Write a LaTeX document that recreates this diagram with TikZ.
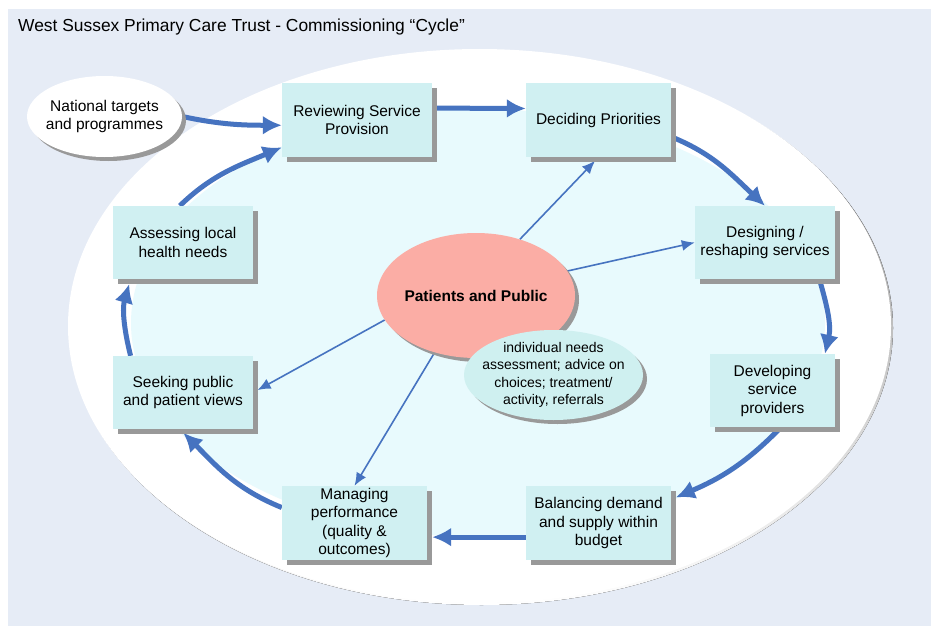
\documentclass[tikz,border=0pt]{standalone}
\usepackage{fontspec}
\setmainfont{Liberation Sans}
\usepackage{xcolor}
\usetikzlibrary{arrows.meta, shapes.geometric, shadows, backgrounds}

\definecolor{pagebg}{RGB}{230,236,246}
\definecolor{ringcyan}{RGB}{232,250,253}
\definecolor{boxcyan}{RGB}{208,240,242}
\definecolor{notecyan}{RGB}{207,240,240}
\definecolor{salmon}{RGB}{251,173,165}
\definecolor{flowblue}{RGB}{70,115,192}
\definecolor{shade}{RGB}{153,153,153}

\tikzset{
  stage/.style={rectangle, fill=boxcyan, minimum height=74pt, inner sep=1pt, align=center,
    font=\fontsize{15.5}{18.5}\selectfont,
    drop shadow={shadow xshift=5pt, shadow yshift=-5pt, fill=shade, opacity=1}},
  bubble/.style={ellipse, inner xsep=-10pt, inner ysep=-10pt, align=center,
    font=\fontsize{15.5}{18.5}\selectfont,
    drop shadow={shadow xshift=4pt, shadow yshift=-4pt, fill=shade, opacity=1}},
  cyc/.style={line width=5pt, draw=flowblue, -{Latex[length=19pt,width=19pt]}},
  link/.style={line width=1.6pt, draw=flowblue, -{Latex[length=13pt,width=11pt]}},
}

\begin{document}
\begin{tikzpicture}[x=1pt,y=-1pt]
\useasboundingbox (0,0) rectangle (931,626);

\node[anchor=west, inner sep=0pt, font=\fontsize{17.4}{20}\selectfont] (title) at (18,27)
  {West Sussex Primary Care Trust - Commissioning “Cycle”};

% the cycle
\node[stage, minimum width=150pt] (rev) at (357,120) {Reviewing Service\\Provision};
\node[stage, minimum width=145pt] (dec) at (598.5,120) {Deciding Priorities};
\node[stage, minimum width=140pt, minimum height=73pt] (des) at (765,242.5) {Designing /\\reshaping services};
\node[stage, minimum width=125pt, minimum height=73pt] (dev) at (772.5,390.5) {Developing\\service\\providers};
\node[stage, minimum width=145pt] (bal) at (598.5,523) {Balancing demand\\and supply within\\budget};
\node[stage, minimum width=145pt] (man) at (354.5,523) {Managing\\performance\\(quality \&\\outcomes)};
\node[stage, minimum width=140pt, minimum height=73pt] (seek) at (183,392.5) {Seeking public\\and patient views};
\node[stage, minimum width=140pt, minimum height=73pt] (ass) at (183,242.5) {Assessing local\\health needs};

\node[bubble, fill=white, minimum width=155pt, minimum height=81pt] (nat) at (104.5,116.5)
  {National targets\\and programmes};
\node[bubble, fill=salmon, inner xsep=-5pt, minimum width=198pt, minimum height=125pt,
  font=\fontsize{15.5}{18.5}\selectfont\bfseries] (pat) at (476,295.5) {Patients and Public};
\node[bubble, fill=notecyan, inner xsep=-25pt, inner ysep=-18pt, minimum width=179pt, minimum height=90pt,
  font=\fontsize{14}{17.5}\selectfont] (ind) at (553.5,375)
  {individual needs\\assessment; advice on\\choices; treatment/\\activity, referrals};

\begin{scope}[on background layer]
\fill[pagebg] (8,9) rectangle (931,626);
\fill[shade] (481.5,328) ellipse [x radius=411.5, y radius=277];
\fill[white] (479.5,326) ellipse [x radius=411.5, y radius=277];
\fill[ringcyan] (478,323) ellipse [x radius=347, y radius=214];

\draw[cyc] (nat.east) to[out=-12, in=180] (rev.184);
\draw[cyc] (rev.9) -- (dec.171);
\draw[cyc] (dec.-13) to[out=-22, in=137] (des.north);
\draw[cyc] (des.-34) to[out=-74, in=77] (dev.35);
\draw[cyc, shorten >=5pt] (dev.-77) to[out=-134, in=23] (bal.18);
\draw[cyc, shorten >=5pt] (bal.191) -- (man.-11);
\draw[cyc, shorten >=5pt] (man.168) to[out=158, in=-45] (seek.-95);
\draw[cyc, shorten >=5pt] (seek.145) to[out=104, in=-106] (ass.215);
\draw[cyc] (ass.95) to[out=44, in=-157] (rev.200);

\draw[link, shorten >=5pt] (pat.52) -- (dec.south);
\draw[link] (pat.15) -- (des.west);
\draw[link, shorten >=5pt] (pat.195) -- (seek.east);
\draw[link] (pat.234) -- (man.north);
\end{scope}

\end{tikzpicture}
\end{document}
